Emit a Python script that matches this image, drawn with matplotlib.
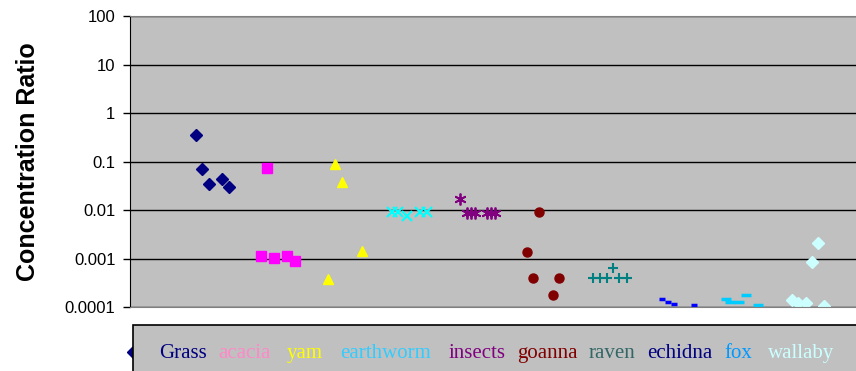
import matplotlib
matplotlib.use("Agg")
import matplotlib.pyplot as plt
from matplotlib.patches import Rectangle
from matplotlib.lines import Line2D

# x = sample position along the plot (arbitrary units), y = concentration ratio
grass_x = [6.6, 7.2, 7.9, 9.2, 9.9]
grass_y = [0.36, 0.072, 0.035, 0.044, 0.030]
acacia_x = [13.7, 13.1, 14.4, 15.7, 16.5]
acacia_y = [0.075, 0.00113, 0.00104, 0.00113, 0.00089]
yam_x = [20.5, 21.2, 23.2, 19.8]
yam_y = [0.089, 0.038, 0.0014, 0.00038]
earthworm_x = [26.2, 26.8, 27.7, 29.0, 29.7]
earthworm_y = [0.0091, 0.0091, 0.0077, 0.0091, 0.0091]
insects_x = [33.0, 33.7, 34.1, 34.5, 35.7, 36.1, 36.5]
insects_y = [0.0169, 0.0087, 0.0087, 0.0087, 0.0087, 0.0087, 0.0087]
goanna_x = [40.9, 39.7, 40.3, 42.9, 42.3]
goanna_y = [0.0091, 0.00138, 0.0004, 0.0004, 0.00018]
raven_x = [48.3, 46.3, 47.0, 47.7, 48.9, 49.7]
raven_y = [0.00065, 0.00039, 0.00039, 0.00039, 0.00039, 0.00039]
echidna_x = [53.2, 53.8, 54.4, 56.4]
echidna_y = [0.000146, 0.000124, 0.000115, 0.000108]
fox_x = [59.6, 60.0, 60.9, 61.6, 62.8]
fox_y = [0.000146, 0.000124, 0.000124, 0.000179, 0.000108]
wallaby_x = [68.8, 68.2, 66.2, 66.8, 67.6, 69.4]
wallaby_y = [0.0021, 0.00086, 0.000141, 0.000121, 0.000121, 0.000103]

labels = ["Grass", "acacia", "yam", "earthworm", "insects", "goanna",
          "raven", "echidna", "fox", "wallaby"]
label_colors = ["#000080", "#FF88C8", "#FFFF00", "#33CCFF", "#800080", "#800000",
                "#336666", "#000080", "#0099FF", "#CCFFFF"]
label_px = [159, 218, 287, 340, 449, 517, 589, 647, 724, 768]

W, H = 856, 371
fig = plt.figure(figsize=(W / 100, H / 100), dpi=100)
ax = fig.add_axes([130 / W, (H - 307) / H, (W - 130) / W, (307 - 16.3) / H])
ax.set_facecolor("#C0C0C0")

ax.plot(grass_x, grass_y, "D", color="#000080", ms=6, ls="none")
ax.plot(acacia_x, acacia_y, "s", color="#FF00FF", ms=6.5, ls="none")
ax.plot(yam_x, yam_y, "^", color="#FFFF00", ms=7, ls="none")
ax.plot(earthworm_x, earthworm_y, "x", color="#00FFFF", ms=6.5, mew=1.5, ls="none")
ax.plot(insects_x, insects_y, marker=(6, 2, 0), color="#800080", ms=8.5, mew=1.3, ls="none")
ax.plot(goanna_x, goanna_y, "o", color="#800000", ms=6.5, ls="none")
ax.plot(raven_x, raven_y, "+", color="#008080", ms=7.5, mew=1.5, ls="none")
ax.plot(echidna_x, echidna_y, "_", color="#0000FF", ms=4.5, mew=2.5, ls="none")
ax.plot(fox_x, fox_y, "_", color="#00CCFF", ms=7, mew=2.5, ls="none")
ax.plot(wallaby_x, wallaby_y, "D", color="#CCFFFF", ms=6, ls="none")

ax.set_yscale("log")
ax.set_ylim(0.0001, 100)
ax.set_xlim(0, 72.6)
ax.set_yticks([0.0001, 0.001, 0.01, 0.1, 1, 10, 100])
ax.set_yticklabels(["0.0001", "0.001", "0.01", "0.1", "1", "10", "100"],
                   fontfamily="Liberation Sans", fontsize=12)
ax.minorticks_off()
ax.tick_params(axis="y", length=5, width=1, pad=5.5)
ax.set_xticks([])
ax.grid(True, axis="y", color="black", lw=1)
ax.set_axisbelow(True)
ax.spines["right"].set_visible(False)
ax.spines["top"].set_color("#808080")
ax.spines["bottom"].set_color("#808080")
ax.spines["left"].set_color("black")

ax.set_ylabel("Concentration Ratio", fontfamily="Liberation Sans", fontweight="bold",
              fontsize=18)
ax.yaxis.set_label_coords(-90 / (W - 130), 0.5)

# legend box at the bottom
fig.add_artist(Line2D([132.5 / W], [(H - 351.7) / H], marker="D", color="#000080",
                      ms=6, ls="none", transform=fig.transFigure, zorder=1))
fig.add_artist(Rectangle((133 / W, (H - 380) / H), 1, 55 / H, transform=fig.transFigure,
                         facecolor="#C0C0C0", edgecolor="black", lw=1.2, zorder=2))
for name, c, px in zip(labels, label_colors, label_px):
    fig.text(px / W, (H - 358) / H, name, color=c, fontfamily="Liberation Serif",
             fontsize=15, va="baseline", ha="left", zorder=3)

fig.savefig("out.png", dpi=100)
